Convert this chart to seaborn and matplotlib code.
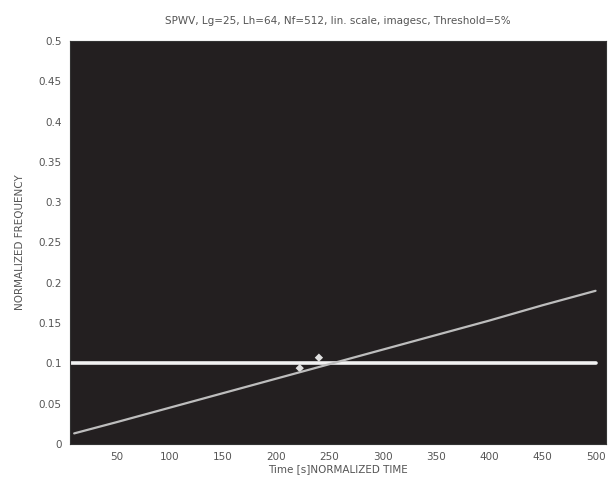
import numpy as np
import pandas as pd
import seaborn as sns
import matplotlib.pyplot as plt

# time samples
time = [10, 50, 100, 150, 200, 250, 300, 350, 400, 450, 500]
# linear chirp ridge (normalized frequency)
chirp_freq = [0.013, 0.027, 0.045, 0.063, 0.081, 0.099, 0.117, 0.135, 0.153, 0.172, 0.19]
# constant-frequency component
const_time = [5, 500]
const_freq = [0.1, 0.1]
# interference blobs where the two components cross
blob_time = [222, 240]
blob_freq = [0.094, 0.107]

x_ticks = [50, 100, 150, 200, 250, 300, 350, 400, 450, 500]
y_ticks = [0, 0.05, 0.1, 0.15, 0.2, 0.25, 0.3, 0.35, 0.4, 0.45, 0.5]
y_labels = ["0", "0.05", "0.1", "0.15", "0.2", "0.25", "0.3", "0.35", "0.4", "0.45", "0.5"]

sns.set_theme(style="white")
plt.rcParams["font.family"] = ["DejaVu Sans"]

fig = plt.figure(figsize=(6.08, 4.83), dpi=100)
ax = fig.add_axes([0.115, 0.081, 0.882, 0.834])
ax.set_facecolor("#231f20")

chirp_df = pd.DataFrame({"time": time, "freq": chirp_freq})
const_df = pd.DataFrame({"time": const_time, "freq": const_freq})
blob_df = pd.DataFrame({"time": blob_time, "freq": blob_freq})

sns.lineplot(data=const_df, x="time", y="freq", ax=ax, color="#f2f2f2", linewidth=2.6)
sns.lineplot(data=chirp_df, x="time", y="freq", ax=ax, color="#bdbdbd", linewidth=1.6)
sns.scatterplot(data=blob_df, x="time", y="freq", ax=ax, color="#e0e0e0", s=18,
                edgecolor="none", marker="D")

ax.set_xlim(6, 510)
ax.set_ylim(0, 0.5)
ax.set_xticks(x_ticks)
ax.set_yticks(y_ticks)
ax.set_yticklabels(y_labels)
ax.tick_params(axis="both", labelsize=7.5, colors="#555555", length=0, pad=6)
for s in ax.spines.values():
    s.set_color("#333333")
    s.set_linewidth(0.8)

ax.set_title("SPWV, Lg=25, Lh=64, Nf=512, lin. scale, imagesc, Threshold=5%",
             fontsize=7.5, color="#555555", pad=12)
ax.set_xlabel("Time [s]NORMALIZED TIME", fontsize=7.5, color="#555555", labelpad=1)
ax.set_ylabel("NORMALIZED FREQUENCY", fontsize=7.5, color="#555555", labelpad=10)

fig.savefig("out.png", dpi=100)
